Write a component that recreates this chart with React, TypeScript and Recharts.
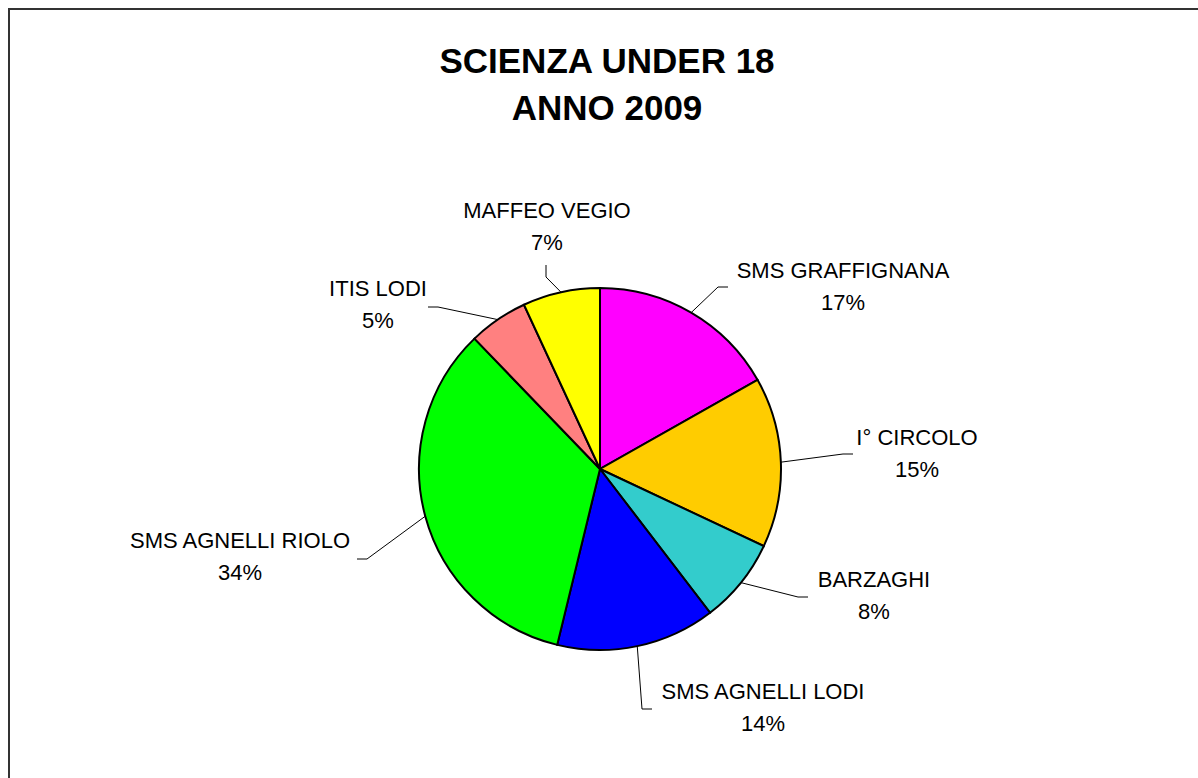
import { PieChart, Pie, Cell } from 'recharts'

// dati (quote in %)
const SCHOOLS = [
  'SMS GRAFFIGNANA',
  'I° CIRCOLO',
  'BARZAGHI',
  'SMS AGNELLI LODI',
  'SMS AGNELLI RIOLO',
  'ITIS LODI',
  'MAFFEO VEGIO',
]
const SHARES = [16.8, 15.2, 7.6, 14.2, 34.0, 5.3, 6.9]
const COLORS = ['#FF00FF', '#FFCC00', '#33CCCC', '#0000FF', '#00FF00', '#FF8080', '#FFFF00']

const TITLE_LINES = ['SCIENZA UNDER 18', 'ANNO 2009']

const data = SCHOOLS.map((name, i) => ({ name, value: SHARES[i] }))

const PIE_CX = 600
const PIE_CY = 469
const PIE_R = 181
const FONT = '"Liberation Sans", Arial, sans-serif'

// posizione delle etichette rispetto al centro della torta (gomito, fine linea, testo)
const LABEL_LAYOUT = [
  { elbow: [118, -182], end: [128, -182], text: [243, -191] },
  { elbow: [243, -15], end: [253, -15], text: [317, -24] },
  { elbow: [198, 128], end: [208, 128], text: [274, 118] },
  { elbow: [42, 240], end: [52, 240], text: [163, 230] },
  { elbow: [-233, 90], end: [-243, 90], text: [-360, 79] },
  { elbow: [-162, -162], end: [-172, -162], text: [-222, -173] },
  { elbow: [-54, -192], end: [-54, -204], text: [-53, -251] },
]

const RAD = Math.PI / 180

const renderLabel = (props: any) => {
  const { midAngle, outerRadius, percent, index, name } = props
  const cx = props.cx ?? PIE_CX
  const cy = props.cy ?? PIE_CY
  const layout = LABEL_LAYOUT[index]
  const sx = cx + outerRadius * Math.cos(-midAngle * RAD)
  const sy = cy + outerRadius * Math.sin(-midAngle * RAD)
  const ex = cx + layout.elbow[0]
  const ey = cy + layout.elbow[1]
  const fx = cx + layout.end[0]
  const fy = cy + layout.end[1]
  const tx = cx + layout.text[0]
  const ty = cy + layout.text[1]
  return (
    <g key={`lbl-${index}`}>
      <polyline
        points={`${sx},${sy} ${ex},${ey} ${fx},${fy}`}
        fill="none"
        stroke="#000"
        strokeWidth={1}
      />
      <text x={tx} y={ty} textAnchor="middle" fill="#000" fontSize={22} fontFamily={FONT}>
        {name}
      </text>
      <text x={tx} y={ty + 32} textAnchor="middle" fill="#000" fontSize={22} fontFamily={FONT}>
        {`${Math.round(percent * 100)}%`}
      </text>
    </g>
  )
}

export default function App() {
  return (
    <div style={{ position: 'relative', width: 1198, height: 778, overflow: 'hidden', background: '#fff' }}>
      <style>{'body{margin:0;overflow:hidden}'}</style>
      {/* cornice */}
      <div
        style={{
          position: 'absolute',
          left: 8,
          top: 8,
          width: 1300,
          height: 900,
          borderTop: '2px solid #333',
          borderLeft: '2px solid #333',
        }}
      />
      <div
        style={{
          position: 'absolute',
          left: 0,
          top: 37,
          width: 1214,
          textAlign: 'center',
          fontFamily: FONT,
          fontWeight: 'bold',
          fontSize: 35,
          lineHeight: '47px',
          color: '#000',
        }}
      >
        {TITLE_LINES.map((t) => (
          <div key={t}>{t}</div>
        ))}
      </div>
      <div style={{ position: 'absolute', left: 0, top: 0 }}>
        <PieChart width={1198} height={778} margin={{ top: 0, right: 0, bottom: 0, left: 0 }}>
          <Pie
            data={data}
            dataKey="value"
            nameKey="name"
            cx={PIE_CX}
            cy={PIE_CY}
            outerRadius={PIE_R}
            startAngle={90}
            endAngle={-270}
            stroke="#000"
            strokeWidth={2}
            label={renderLabel}
            labelLine={false}
            isAnimationActive={false}
          >
            {data.map((d, i) => (
              <Cell key={d.name} fill={COLORS[i]} />
            ))}
          </Pie>
        </PieChart>
      </div>
    </div>
  )
}
